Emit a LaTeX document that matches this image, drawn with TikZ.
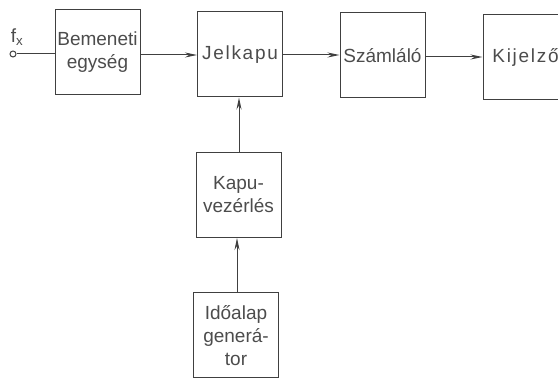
\documentclass[tikz,border=0pt]{standalone}
\usepackage{fontspec}
\setmainfont{Liberation Sans}
\newfontfamily\spacedfont[LetterSpace=9]{Liberation Sans}
\usetikzlibrary{arrows.meta}
\begin{document}
\begin{tikzpicture}[x=1pt,y=-1pt,
  blk/.style={draw=black!75, line width=1pt, minimum width=85pt, minimum height=85pt, inner sep=0pt, align=center, font=\fontsize{19}{23}\selectfont, text=black!70},
  conn/.style={draw=black!75, line width=1pt},
  arr/.style={conn, -{Stealth[length=12pt,width=5pt]}}]
\useasboundingbox (0,0) rectangle (558,385);
\clip (0,0) rectangle (558,385);
\node[blk] (bem) at (97.5,52.5) {Bemeneti\\egység};
\node[blk] (jel) at (240,54.5) {\spacedfont Jelkapu};
\node[blk] (szam) at (382.5,55.5) {Számláló};
\node[blk] (kij) at (525.5,57.5) {\spacedfont Kijelző};
\node[blk] (kapu) at (238.5,195) {Kapu-\\vezérlés};
\node[blk] (ido) at (236,335.5) {Időalap\\generá-\\tor};
\node[draw=black!75, line width=1pt, circle, inner sep=0pt, minimum size=6pt] (fx) at (13,54) {};
\node[font=\fontsize{19}{21}\selectfont, text=black!70, anchor=south] (fxl) at (17,49) {f$_{\mathrm{x}}$};
\draw[conn] (fx.east) -- (fx.east -| bem.west);
\draw[arr] (bem.east |- 0,55) -- (jel.west |- 0,55);
\draw[arr] (jel.east |- 0,55) -- (szam.west |- 0,55);
\draw[arr] (szam.east |- 0,57) -- (kij.west |- 0,57);
\draw[arr] (kapu.north -| 239,0) -- (jel.south -| 239,0);
\draw[arr] (ido.north -| 237,0) -- (kapu.south -| 237,0);
\end{tikzpicture}
\end{document}
